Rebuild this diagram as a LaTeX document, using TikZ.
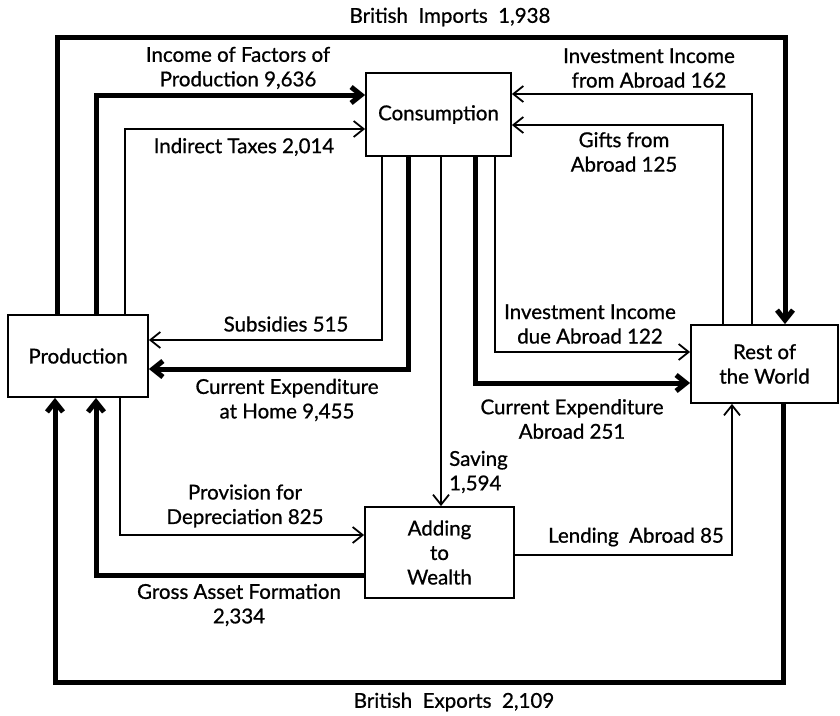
\documentclass[tikz,border=0pt]{standalone}
\usepackage{fontspec}
\setmainfont{Lato}[FakeBold=0.8]
\usetikzlibrary{arrows.meta, positioning}
\tikzset{>={Straight Barb[length=10pt,width=16pt]}}
\tikzset{
  box/.style={draw, line width=1.8pt, inner sep=0pt, align=center},
  flow/.style={line width=1.8pt, ->},
  heavy/.style={line width=5pt, ->},
  lbl/.style={align=center, inner sep=0pt},
}

\begin{document}
\begin{tikzpicture}[x=1pt, y=-1pt, font=\fontsize{20.5}{24.5}\selectfont]
  \useasboundingbox (0,0) rectangle (840,715);
  % the four sectors
  \node [box, minimum width=140pt, minimum height=82pt] (prod) at (78,356) {Production};
  \node [box, minimum width=145pt, minimum height=83pt] (cons) at (438.5,114.5) {Consumption};
  \node [box, minimum width=147pt, minimum height=78pt] (row) at (764.5,364) {Rest of\\the World};
  \node [box, minimum width=149pt, minimum height=91pt] (wealth) at (439.5,552.5) {Adding\\to\\Wealth};
  % corners of the flows
  \coordinate (impL) at (57,37);    \coordinate (impR) at (785,37);
  \coordinate (expL) at (55,682);   \coordinate (expR) at (783,682);
  \coordinate (incL) at (96,95);    \coordinate (taxL) at (125,129);
  \coordinate (subR) at (382,340);  \coordinate (homR) at (408,369);
  \coordinate (sav) at (441,0);
  \coordinate (abrL) at (475,383);  \coordinate (dueL) at (495,352);
  \coordinate (fromR) at (752,94);  \coordinate (giftR) at (723,125);
  \coordinate (depL) at (120,535);  \coordinate (grossL) at (96,575);
  \coordinate (lendR) at (732,555);
  % flows
  \draw [heavy] (prod.north -| impL) -- (impL) -- (impR) -- (row.north -| impR);
  \draw [heavy] (row.south -| expR) -- (expR) -- (expL) -- (prod.south -| expL);
  \draw [heavy] (prod.north -| incL) -- (incL) -- (cons.west |- incL);
  \draw [flow] (prod.north -| taxL) -- (taxL) -- (cons.west |- taxL);
  \draw [flow] (cons.south -| subR) -- (subR) -- (prod.east |- subR);
  \draw [heavy] (cons.south -| homR) -- (homR) -- (prod.east |- homR);
  \draw [flow] (cons.south -| sav) -- (wealth.north -| sav);
  \draw [heavy] (cons.south -| abrL) -- (abrL) -- (row.west |- abrL);
  \draw [flow] (cons.south -| dueL) -- (dueL) -- (row.west |- dueL);
  \draw [flow] (row.north -| fromR) -- (fromR) -- (cons.east |- fromR);
  \draw [flow] (row.north -| giftR) -- (giftR) -- (cons.east |- giftR);
  \draw [flow] (prod.south -| depL) -- (depL) -- (wealth.west |- depL);
  \draw [heavy] (wealth.west |- grossL) -- (grossL) -- (prod.south -| grossL);
  \draw [flow] (wealth.east |- lendR) -- (lendR) -- (row.south -| lendR);
  % labels
  \node [lbl] (imports) at (450,17) {British\ \ Imports\ \ 1,938};
  \node [lbl] (exports) at (454,702) {British\ \ Exports\ \ 2,109};
  \node [lbl] (income) at (238,68) {Income of Factors of\\Production 9,636};
  \node [lbl] (taxes) at (244,147) {Indirect Taxes 2,014};
  \node [lbl] (subs) at (286,324) {Subsidies 515};
  \node [lbl] (home) at (287,400) {Current Expenditure\\at Home 9,455};
  \node [lbl] (dep) at (245,506) {Provision for\\Depreciation 825};
  \node [lbl] (gross) at (239,605) {Gross Asset Formation\\2,334};
  \node [lbl] (fromab) at (649,68) {Investment Income\\from Abroad 162};
  \node [lbl] (gifts) at (624,152) {Gifts from\\Abroad 125};
  \node [lbl] (due) at (590,324) {Investment Income\\due Abroad 122};
  \node [lbl] (curab) at (572,419) {Current Expenditure\\Abroad 251};
  \node [lbl, align=left, anchor=west] (saving) at (449,472) {Saving\\1,594};
  \node [lbl] (lending) at (636,537) {Lending\ \ Abroad 85};
\end{tikzpicture}
\end{document}
